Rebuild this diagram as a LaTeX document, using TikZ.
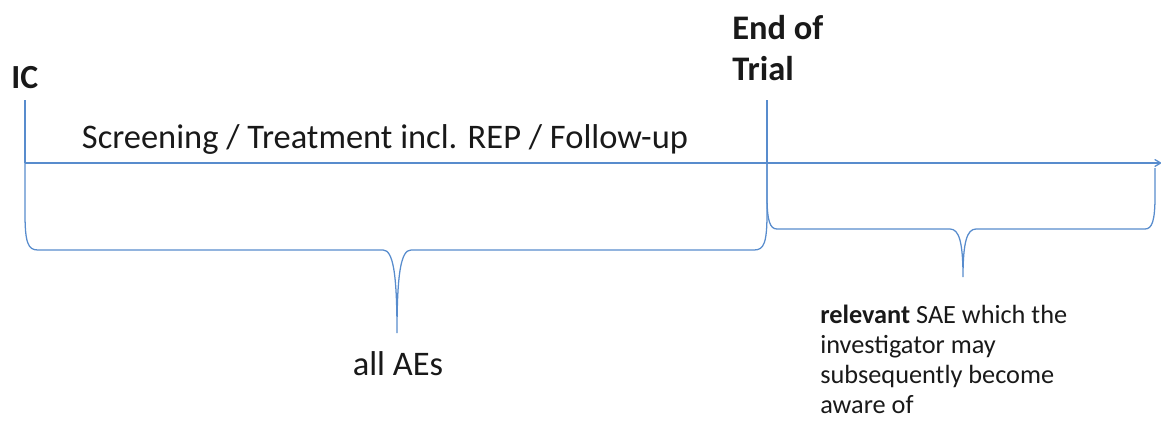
\documentclass[tikz,border=0pt]{standalone}
\usepackage{fontspec}
\setmainfont{Carlito}
\usetikzlibrary{arrows}

\definecolor{lineblue}{RGB}{88,140,205}
\definecolor{ink}{RGB}{25,25,25}

\begin{document}
\begin{tikzpicture}[x=0.025cm,y=-0.025cm,>=angle 60,
  tl/.style={draw=lineblue,line width=0.9pt},
  milestone/.style={font=\bfseries\fontsize{24.5}{28.5}\selectfont,text=ink,inner sep=0pt},
  phase/.style={font=\fontsize{24.5}{28}\selectfont,text=ink,inner sep=0pt},
  note/.style={font=\fontsize{18.7}{21.3}\selectfont,text=ink,inner sep=0pt}]
\useasboundingbox (0,0) rectangle (1161,421);
\coordinate (ic) at (25,163);
\coordinate (ictop) at (25,100);
\coordinate (eot) at (767,163);
\coordinate (eottop) at (767,100);
\coordinate (end) at (1162,163);
\coordinate (brend) at (1155,168);
% timeline
\draw[tl,->] (ic) -- (end);
\draw[tl] (ictop) -- (ic);
\draw[tl] (eottop) -- (eot);
% braces
\draw[tl] (ic) -- ++(0,50) .. controls +(0,30) and +(-10,0) .. ++(13,37) -- (383,250)
  .. controls +(10,0) and +(0,-60) .. (397,333) .. controls +(0,-60) and +(-10,0) .. (411,250)
  -- (754,250) .. controls +(10,0) and +(0,30) .. ++(13,-37) -- (eot);
\draw[tl] (eot) -- ++(0,33) .. controls +(0,25) and +(-7,0) .. ++(10,33) -- (950,229)
  .. controls +(9,0) and +(0,-35) .. (963,277) .. controls +(0,-35) and +(-9,0) .. (976,229)
  -- (1145,229) .. controls +(7,0) and +(0,25) .. ++(10,-33) -- (brend);
% labels
\node[milestone,anchor=base west,font=\bfseries\fontsize{24}{28}\selectfont] (IC) at (11,88) {IC};
\node[milestone,anchor=base west,align=left] (EoT) at (732,80) {End of\\Trial};
\node[phase,anchor=base] (phase) at (385,148) {Screening / Treatment incl. REP / Follow-up};
\node[phase,anchor=base] (all) at (398,375) {all AEs};
\node[note,anchor=base west,align=left] (rel) at (820,413)
  {\textbf{relevant} SAE which the\\investigator may\\subsequently become\\aware of};
\end{tikzpicture}
\end{document}
